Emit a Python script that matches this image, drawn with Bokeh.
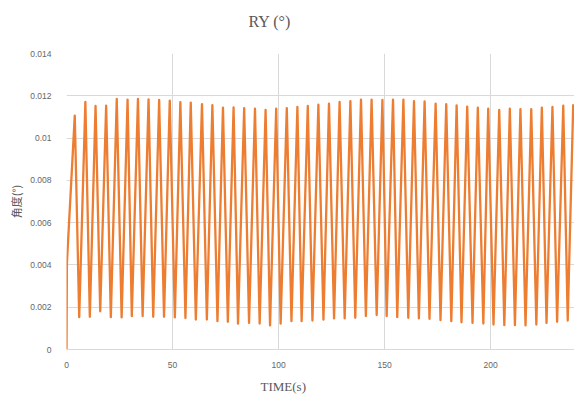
from bokeh.plotting import figure
from bokeh.models import Range1d, FixedTicker, Title, ColumnDataSource
from bokeh.embed import file_html
from bokeh.resources import INLINE

# RY rotation angle over time: start-up, then alternating crests and troughs
start_times = [0.0, 0.2]
start_values = [0.0, 0.0041]

peak_times = [3.9, 8.9, 13.7, 18.7, 23.7, 28.8, 33.7, 38.7, 43.7, 48.7,
              53.7, 58.6, 63.9, 68.8, 73.8, 78.8, 83.8, 88.9, 93.9, 98.9,
              103.9, 108.9, 113.8, 118.8, 123.8, 128.8, 133.9, 138.9, 143.9, 149.0,
              154.0, 158.9, 163.9, 168.9, 174.1, 179.1, 184.0, 189.0, 194.0, 198.9,
              204.1, 209.1, 214.1, 219.2, 224.2, 229.2, 234.3, 239.0]
peak_values = [0.01106, 0.01171, 0.01152, 0.01153, 0.01185, 0.01182, 0.01185, 0.01183, 0.01180, 0.01177,
               0.01170, 0.01168, 0.01161, 0.01156, 0.01144, 0.01145, 0.01141, 0.01139, 0.01133, 0.01139,
               0.01142, 0.01147, 0.01152, 0.01158, 0.01163, 0.01171, 0.01175, 0.01182, 0.01182, 0.01180,
               0.01182, 0.01182, 0.01175, 0.01174, 0.01163, 0.01160, 0.01155, 0.01149, 0.01144, 0.01139,
               0.01133, 0.01139, 0.01137, 0.01137, 0.01144, 0.01147, 0.01153, 0.01160]

trough_times = [6.0, 11.0, 15.9, 20.9, 26.0, 30.8, 35.9, 40.9, 46.0, 51.1,
                56.1, 61.0, 66.2, 71.2, 76.1, 80.9, 86.1, 91.1, 96.0, 101.0,
                106.1, 110.9, 116.0, 121.2, 126.2, 131.2, 136.2, 141.2, 146.3, 151.0,
                156.0, 161.2, 166.2, 171.2, 176.4, 181.5, 186.3, 191.5, 196.6, 201.4,
                206.5, 211.5, 216.5, 221.6, 226.4, 231.4, 236.4]
trough_values = [0.00153, 0.00155, 0.00181, 0.00153, 0.00152, 0.00158, 0.00158, 0.00155, 0.00155, 0.00152,
                 0.00149, 0.00142, 0.00142, 0.00134, 0.00131, 0.00122, 0.00126, 0.00123, 0.00114, 0.00122,
                 0.00134, 0.00134, 0.00137, 0.00141, 0.00147, 0.00147, 0.00150, 0.00158, 0.00163, 0.00158,
                 0.00153, 0.00150, 0.00147, 0.00145, 0.00139, 0.00134, 0.00129, 0.00126, 0.00123, 0.00118,
                 0.00115, 0.00115, 0.00114, 0.00118, 0.00126, 0.00131, 0.00137]

x_ticks = [0, 50, 100, 150, 200]
y_ticks = [0, 0.002, 0.004, 0.006, 0.008, 0.01, 0.012, 0.014]
y_tick_labels = ["0", "0.002", "0.004", "0.006", "0.008", "0.01", "0.012", "0.014"]

title_text = "RY (°)"
x_title = "TIME(s)"
y_title = "角度(°)"

# merge all samples into one time-ordered series
points = sorted(zip(start_times + peak_times + trough_times,
                    start_values + peak_values + trough_values))
src = ColumnDataSource(data=dict(t=[a for a, _ in points], v=[b for _, b in points]))

GRID = "#D9D9D9"
TEXT = "#595959"

p = figure(width=574, height=403, output_backend="svg", toolbar_location=None,
           title=None, x_range=Range1d(0, 239.6), y_range=Range1d(0, 0.014),
           min_border_left=66, min_border_right=0, min_border_top=53, min_border_bottom=54)
p.background_fill_color = "white"
p.border_fill_color = "white"
p.outline_line_color = None

p.line(x="t", y="v", source=src, line_color="#ED7D31", line_width=2.3, line_join="round")

p.xaxis.ticker = FixedTicker(ticks=x_ticks)
p.yaxis.ticker = FixedTicker(ticks=y_ticks)
p.yaxis.major_label_overrides = {tk: lb for tk, lb in zip(y_ticks, y_tick_labels)}

for ax in (p.xaxis[0], p.yaxis[0]):
    ax.major_tick_line_color = None
    ax.minor_tick_line_color = None
    ax.major_tick_out = 0
    ax.major_tick_in = 0
    ax.minor_tick_out = 0
    ax.minor_tick_in = 0
    ax.major_label_text_font = "Liberation Sans"
    ax.major_label_text_font_size = "8.5px"
    ax.major_label_text_color = "#666666"
p.xaxis.axis_line_color = GRID
p.yaxis.axis_line_color = None
p.xaxis.major_label_standoff = 12
p.yaxis.major_label_standoff = 15

p.yaxis.axis_label = y_title
p.yaxis.axis_label_text_font = "Noto Sans CJK SC"
p.yaxis.axis_label_text_font_size = "11px"
p.yaxis.axis_label_text_font_style = "normal"
p.yaxis.axis_label_text_color = TEXT
p.yaxis.axis_label_standoff = 3

p.xgrid.grid_line_color = GRID
p.ygrid.grid_line_color = GRID

p.add_layout(Title(text=x_title, align="left", offset=194, text_font="Liberation Serif",
                   text_font_size="13px", text_font_style="normal", text_color=TEXT,
                   standoff=12), "below")
# thin blank band between the plot area and the chart title above it
p.add_layout(Title(text=" ", text_font_size="1px", text_color="white", standoff=11), "above")
p.add_layout(Title(text=title_text, align="left", offset=182, text_font="Liberation Serif",
                   text_font_size="16px", text_font_style="normal", text_color=TEXT,
                   standoff=19), "above")

open("out.html", "w").write(file_html(p, INLINE))
